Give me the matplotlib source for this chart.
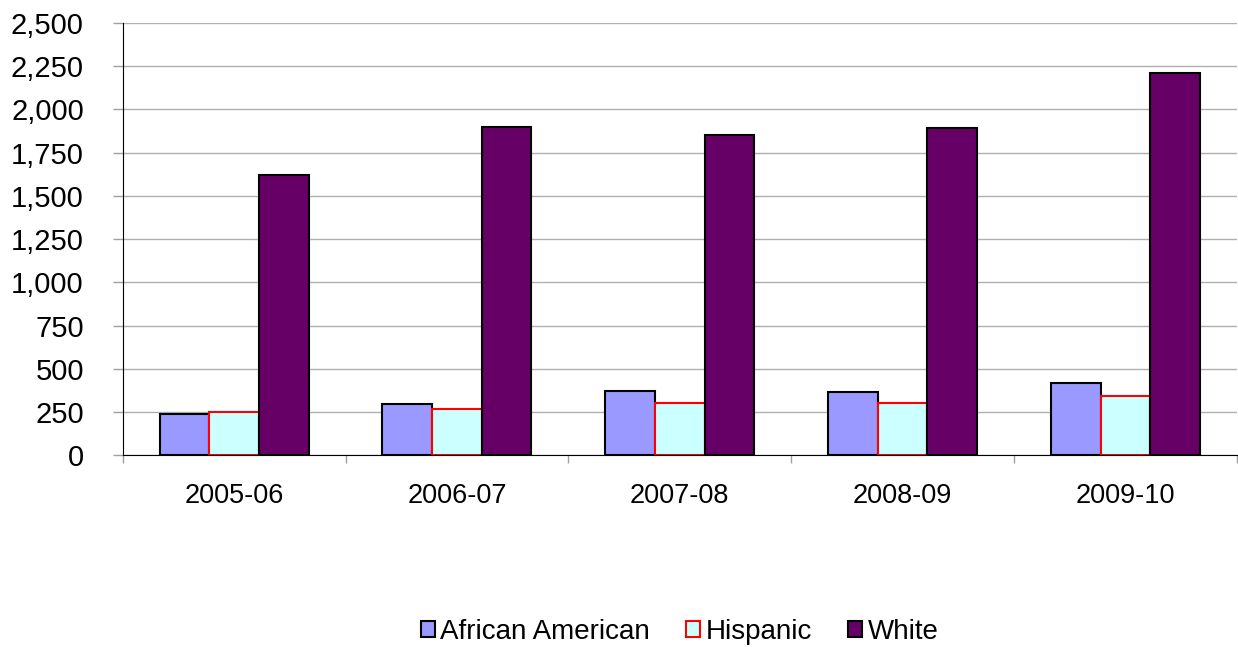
import matplotlib.pyplot as plt
import numpy as np
from matplotlib.ticker import FuncFormatter, MultipleLocator

plt.rcParams["font.family"] = ["Liberation Sans", "DejaVu Sans"]

years = ["2005-06", "2006-07", "2007-08", "2008-09", "2009-10"]
african_american = [238, 299, 374, 367, 419]
hispanic = [250, 270, 303, 305, 343]
white = [1619, 1897, 1853, 1890, 2208]

series = [
    ("African American", african_american, "#9999FF", "black"),
    ("Hispanic", hispanic, "#CCFFFF", "#FF0000"),
    ("White", white, "#660066", "black"),
]

fig = plt.figure(figsize=(12.38, 6.47), dpi=100)
ax = fig.add_axes([0.0991, 0.2963, 0.9, 0.6682])

x = np.arange(len(years))
w = 0.223
for i, (name, vals, fc, ec) in enumerate(series):
    ax.bar(x + (i - 1) * w, vals, w, color=fc, edgecolor=ec, linewidth=1.5,
           label=name, zorder=3)

ax.set_xlim(-0.5, len(years) - 0.5)
ax.set_ylim(0, 2500)
ax.yaxis.set_major_locator(MultipleLocator(250))
ax.yaxis.set_major_formatter(FuncFormatter(lambda v, p: f"{int(v):,}"))
ax.grid(axis="y", color="#b0b0b0", linewidth=1, zorder=0)

# labels at category centres, ticks at boundaries
ax.set_xticks(x)
ax.set_xticklabels(years)
ax.set_xticks(np.arange(len(years) + 1) - 0.5, minor=True)
ax.tick_params(axis="x", which="major", length=0, pad=20, labelsize=19.5)
ax.tick_params(axis="x", which="minor", length=6, color="#a0a0a0", width=1)
ax.tick_params(axis="y", length=7, color="#a0a0a0", width=1, pad=21, labelsize=21)

for s in ["top", "right"]:
    ax.spines[s].set_visible(False)
ax.spines["left"].set_zorder(4)
ax.spines["bottom"].set_zorder(4)

fig.legend(loc="center", bbox_to_anchor=(0.549, 0.023), ncol=3, frameon=False,
           fontsize=20, handlelength=0.5, handleheight=0.5, handletextpad=0.2,
           columnspacing=1.3, borderpad=0)

fig.savefig("out.png", dpi=100)
